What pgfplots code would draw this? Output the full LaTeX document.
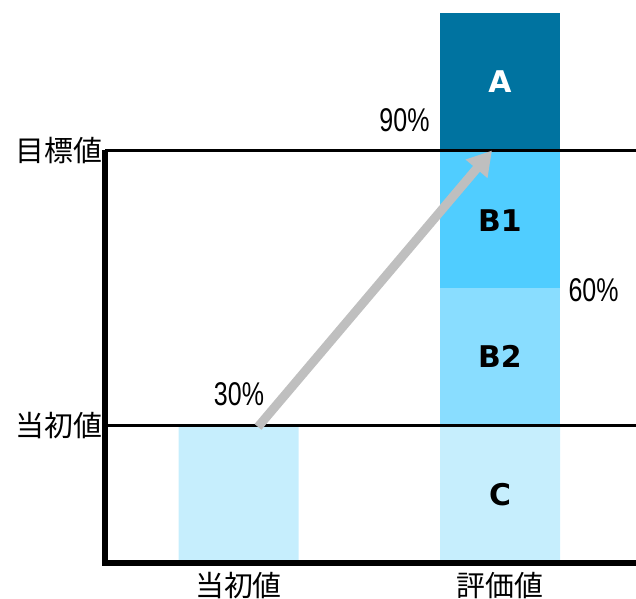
\documentclass[border=0pt]{standalone}
\usepackage{fontspec}
\usepackage{pgfplots}
\pgfplotsset{compat=1.18}
\usetikzlibrary{arrows.meta}
\setmainfont{Liberation Sans}
\newfontfamily\jp{Noto Sans CJK JP}
\newfontfamily\lab{DejaVu Sans}
\definecolor{cA}{RGB}{0,115,160}
\definecolor{cB1}{RGB}{80,205,255}
\definecolor{cB2}{RGB}{137,221,255}
\definecolor{cC}{RGB}{198,238,253}
\definecolor{cArrow}{RGB}{191,191,191}

\begin{document}
\begin{tikzpicture}
\useasboundingbox (0,0) rectangle (636bp,599bp);
\begin{axis}[
    at={(105bp,36bp)}, anchor=south west,
    scale only axis, width=531bp, height=550bp,
    xmin=105, xmax=636, ymin=0, ymax=4,
    axis x line*=bottom, axis y line*=left,
    axis line style={draw=none},
    major tick length=0pt,
    ybar stacked, bar width=120,
    xtick={238.5,500}, xticklabels={当初値,評価値},
    ytick={1,3}, yticklabels={当初値,目標値},
    xticklabel style={font=\jp\fontsize{29}{30}\selectfont, yshift=-6bp},
    yticklabel style={font=\jp\fontsize{29}{30}\selectfont, xshift=1bp},
    clip=false,
]
\addplot[fill=cC, draw=none] coordinates {(238.5,1) (500,1)};
\addplot[fill=cB2, draw=none] coordinates {(238.5,0) (500,1)};
\addplot[fill=cB1, draw=none] coordinates {(238.5,0) (500,1)};
\addplot[fill=cA, draw=none] coordinates {(238.5,0) (500,1)};

\coordinate (o) at (axis cs:105,0);
\coordinate (r0) at (axis cs:636,0);
\coordinate (l1) at (axis cs:105,1);
\coordinate (r1) at (axis cs:636,1);
\coordinate (l3) at (axis cs:105,3);
\coordinate (r3) at (axis cs:636,3);
\coordinate (as) at (axis cs:258,0.99);
\coordinate (ae) at (axis cs:492,3);
\coordinate (tA) at (axis cs:500,3.5);
\coordinate (tB1) at (axis cs:500,2.49);
\coordinate (tB2) at (axis cs:500,1.5);
\coordinate (tC) at (axis cs:500,0.5);
\coordinate (p90) at (axis cs:433,3.222);
\coordinate (p60) at (axis cs:565,1.985);
\coordinate (p30) at (axis cs:239,1.229);
\end{axis}

\draw[line width=3.5bp] (l1) -- (r1);
\draw[line width=3.5bp] (l3) -- (r3);
\draw[line width=5.5bp] (l3) -- (o) -- (r0);

\draw[line width=9bp, color=cArrow, -{Triangle[length=24bp,width=27bp]}] (as) -- (ae);

\node[font=\lab\bfseries\fontsize{30}{30}\selectfont, text=white] at (tA) {A};
\node[font=\lab\bfseries\fontsize{30}{30}\selectfont] at (tB1) {B1};
\node[font=\lab\bfseries\fontsize{30}{30}\selectfont] at (tB2) {B2};
\node[font=\lab\bfseries\fontsize{30}{30}\selectfont] at (tC) {C};

\node[anchor=east, font=\fontsize{33}{33}\selectfont] at (p90) {\scalebox{0.76}[1]{90\%}};
\node[anchor=west, font=\fontsize{33}{33}\selectfont] at (p60) {\scalebox{0.76}[1]{60\%}};
\node[font=\fontsize{33}{33}\selectfont] at (p30) {\scalebox{0.76}[1]{30\%}};
\end{tikzpicture}
\end{document}
